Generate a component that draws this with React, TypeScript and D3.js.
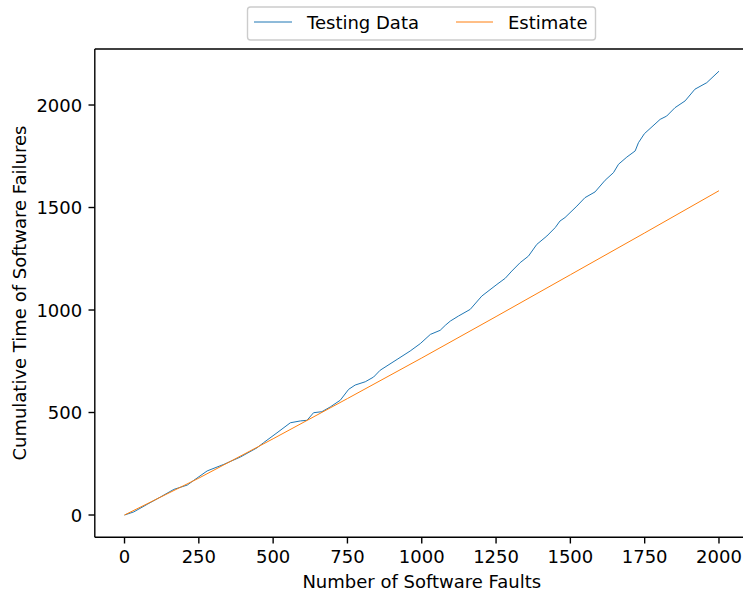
import React from "react";
import * as d3 from "d3";

const testFaults = [
	0, 31, 76, 121, 166, 211, 233, 278, 334, 390, 446, 468, 513, 558, 592, 614, 636, 664, 692, 726,
	754, 776, 810, 838, 860, 917, 961, 995, 1029, 1062, 1079, 1096, 1124, 1163, 1202, 1253, 1281, 1303,
	1331, 1359, 1387, 1421, 1449, 1465, 1482, 1522, 1549, 1583, 1617, 1645, 1662, 1690, 1718, 1729, 1749,
	1802, 1824, 1852, 1886, 1919, 1959, 2000
];
const testTime = [
	0, 15, 52, 88, 125, 146, 169, 215, 247, 283, 328, 353, 401, 450, 459, 462, 499, 504, 527, 560,
	613, 634, 650, 673, 706, 759, 800, 836, 881, 901, 925, 946, 971, 1003, 1068, 1125, 1155, 1190,
	1231, 1263, 1320, 1361, 1402, 1434, 1451, 1507, 1548, 1576, 1633, 1670, 1711, 1746, 1776, 1816, 1860,
	1930, 1946, 1987, 2020, 2077, 2109, 2165
];

// model estimate
const estFaults = [0, 250, 500, 750, 1000, 1250, 1500, 1750, 2000];
const estTime = [0, 180, 372, 568, 766, 968, 1172, 1376, 1582];

const xTicks = [0, 250, 500, 750, 1000, 1250, 1500, 1750, 2000];
const yTicks = [0, 500, 1000, 1500, 2000];

const W = 743;
const H = 594;
const FONT = "DejaVu Sans";

export default function App() {
	const left = 94.8;
	const right = 748.7;
	const top = 49;
	const bottom = 537.2;

	// matplotlib style 5% margins
	const xExt = d3.extent(testFaults.concat(estFaults)) as [number, number];
	const yExt = d3.extent(testTime.concat(estTime)) as [number, number];
	const xPad = (xExt[1] - xExt[0]) * 0.05;
	const yPad = (yExt[1] - yExt[0]) * 0.05;

	const x = d3.scaleLinear().domain([xExt[0] - xPad, xExt[1] + xPad]).range([left, right]);
	const y = d3.scaleLinear().domain([yExt[0] - yPad, yExt[1] + yPad]).range([bottom, top]);

	const line = d3
		.line<[number, number]>()
		.x((d) => x(d[0]))
		.y((d) => y(d[1]));

	const testPts = testFaults.map((f, i) => [f, testTime[i]] as [number, number]);
	const estPts = estFaults.map((f, i) => [f, estTime[i]] as [number, number]);

	const tickLen = 6.3;
	const pad = 6.3;

	return (
		<svg
			width={W}
			height={H}
			style={{ position: "absolute", left: 0, top: 0, background: "#fff" }}
			fontFamily={FONT}
		>
			<rect x={0} y={0} width={W} height={H} fill="#fff" />

			{/* data */}
			<path d={line(testPts) || ""} fill="none" stroke="#1f77b4" strokeWidth={1} />
			<path d={line(estPts) || ""} fill="none" stroke="#ff7f0e" strokeWidth={1} />

			{/* spines */}
			<g stroke="#000" strokeWidth={1.4} fill="none">
				<line x1={left} x2={left} y1={top} y2={bottom} />
				<line x1={left} x2={right} y1={bottom} y2={bottom} />
				<line x1={left} x2={right} y1={top} y2={top} />
				<line x1={right} x2={right} y1={top} y2={bottom} />
			</g>

			{/* x axis */}
			{xTicks.map((t) => (
				<g key={"x" + t}>
					<line x1={x(t)} x2={x(t)} y1={bottom} y2={bottom + tickLen} stroke="#000" strokeWidth={1.4} />
					<text x={x(t)} y={bottom + tickLen + pad + 13.5} fontSize={18} textAnchor="middle" fill="#000">
						{t}
					</text>
				</g>
			))}
			<text x={(left + right) / 2} y={588} fontSize={18} textAnchor="middle" fill="#000">
				Number of Software Faults
			</text>

			{/* y axis */}
			{yTicks.map((t) => (
				<g key={"y" + t}>
					<line x1={left - tickLen} x2={left} y1={y(t)} y2={y(t)} stroke="#000" strokeWidth={1.4} />
					<text x={left - tickLen - pad} y={y(t) + 6.5} fontSize={18} textAnchor="end" fill="#000">
						{t}
					</text>
				</g>
			))}
			<text
				transform={`translate(25.5,${(top + bottom) / 2}) rotate(-90)`}
				fontSize={18}
				textAnchor="middle"
				fill="#000"
			>
				Cumulative Time of Software Failures
			</text>

			{/* legend */}
			<rect x={247.5} y={7} width={348} height={33} rx={3} fill="#fff" fillOpacity={0.8} stroke="#ccc" strokeWidth={1.4} />
			<line x1={254} x2={292} y1={22} y2={22} stroke="#1f77b4" strokeWidth={1} />
			<text x={307} y={28.5} fontSize={18} fill="#000">
				Testing Data
			</text>
			<line x1={456} x2={493} y1={22} y2={22} stroke="#ff7f0e" strokeWidth={1} />
			<text x={508} y={28.5} fontSize={18} fill="#000">
				Estimate
			</text>
		</svg>
	);
}
